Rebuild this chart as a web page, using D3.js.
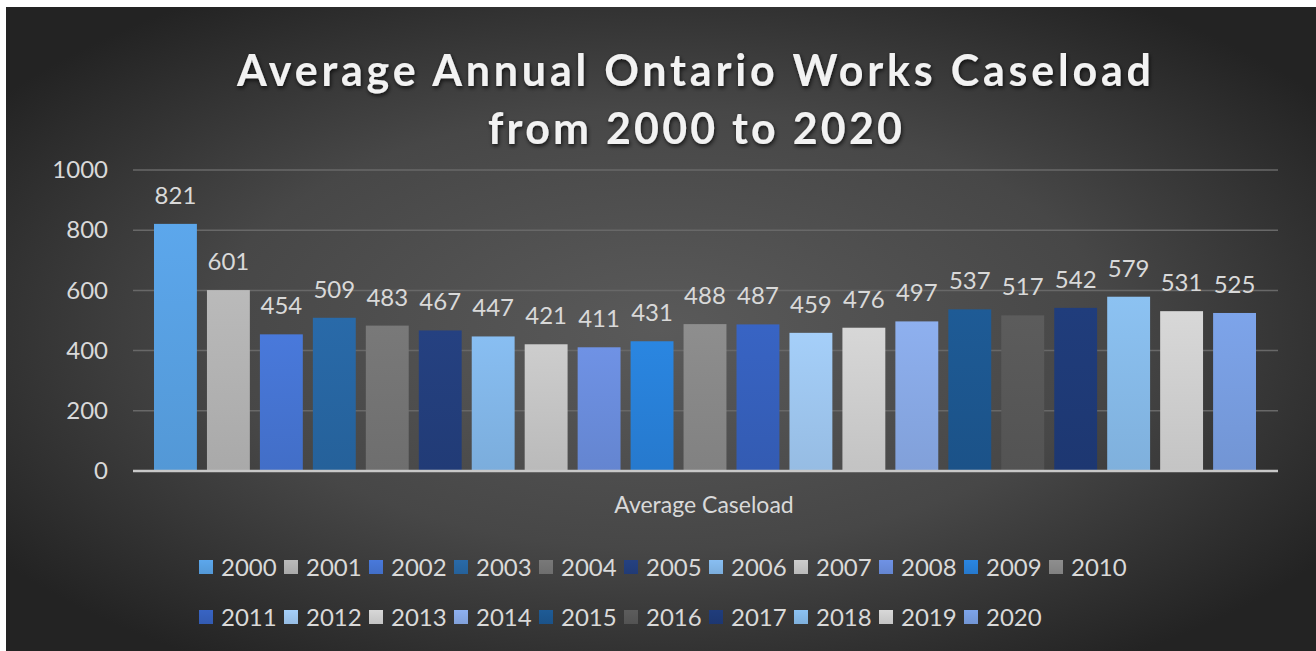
<!DOCTYPE html>
<html>
<head>
<meta charset="utf-8">
<script src="https://cdn.jsdelivr.net/npm/d3@7"></script>
<style>
  html, body { margin: 0; padding: 0; background: #ffffff; }
  svg { display: block; font-family: Lato, "Open Sans", sans-serif; }
</style>
</head>
<body>
<div id="chart"></div>
<script>
// chart data
const years = ["2000", "2001", "2002", "2003", "2004", "2005", "2006", "2007", "2008", "2009", "2010",
  "2011", "2012", "2013", "2014", "2015", "2016", "2017", "2018", "2019", "2020"];
const caseload = [821, 601, 454, 509, 483, 467, 447, 421, 411, 431, 488,
  487, 459, 476, 497, 537, 517, 542, 579, 531, 525];
const yTicks = [0, 200, 400, 600, 800, 1000];
const categoryLabel = "Average Caseload";
const titleLines = ["Average Annual Ontario Works Caseload", "from 2000 to 2020"];

// one fill per series, as in the spreadsheet palette
const palette = ["#58a0e2", "#b2b2b2", "#4674d2", "#2766a2", "#747474", "#233e7c", "#82b6e8",
  "#c4c4c4", "#6a8cdb", "#2880d8", "#888888", "#3660bc", "#9ec6ef", "#cecece", "#88a9e5",
  "#1d5790", "#585858", "#1f3a77", "#86bae8", "#cfcfcf", "#789de0"];

const W = 1316, H = 651;
const svg = d3.select("#chart").append("svg").attr("width", W).attr("height", H);
const defs = svg.append("defs");

const bg = defs.append("radialGradient").attr("id", "bg")
  .attr("cx", "0.5").attr("cy", "0.5").attr("r", "0.62")
  .attr("gradientUnits", "objectBoundingBox");
bg.append("stop").attr("offset", "0%").attr("stop-color", "#5a5a5a");
bg.append("stop").attr("offset", "55%").attr("stop-color", "#474747");
bg.append("stop").attr("offset", "100%").attr("stop-color", "#232323");

const shadow = defs.append("filter").attr("id", "shadow")
  .attr("x", "-5%").attr("y", "-20%").attr("width", "110%").attr("height", "150%");
shadow.append("feDropShadow").attr("dx", 1).attr("dy", 2).attr("stdDeviation", 2)
  .attr("flood-color", "#000").attr("flood-opacity", 0.75);

palette.forEach((c, i) => {
  const g = defs.append("linearGradient").attr("id", "bar" + i)
    .attr("x1", 0).attr("y1", 0).attr("x2", 0).attr("y2", 1);
  g.append("stop").attr("offset", "0%").attr("stop-color", d3.color(c).brighter(0.12));
  g.append("stop").attr("offset", "100%").attr("stop-color", d3.color(c).darker(0.15));
});

svg.append("rect").attr("x", 6).attr("y", 7).attr("width", W - 6).attr("height", H - 7)
  .attr("fill", "url(#bg)");

// title
const title = svg.append("g").attr("filter", "url(#shadow)");
title.append("text").attr("x", 694).attr("y", 86).attr("text-anchor", "middle")
  .attr("fill", "#f2f2f2").attr("font-size", 43).attr("font-weight", "bold")
  .attr("textLength", 914).attr("lengthAdjust", "spacing")
  .text(titleLines[0]);
title.append("text").attr("x", 695).attr("y", 144).attr("text-anchor", "middle")
  .attr("fill", "#f2f2f2").attr("font-size", 43).attr("font-weight", "bold")
  .attr("textLength", 414).attr("lengthAdjust", "spacing")
  .text(titleLines[1]);

// scales
const plotLeft = 133, plotRight = 1278;
const y = d3.scaleLinear().domain([0, 1000]).range([471, 170]);
const x = d3.scaleBand().domain(years).range([154, 1256]).paddingInner(0.19).paddingOuter(0);

// gridlines
svg.append("g").selectAll("line").data(yTicks.filter(t => t > 0)).join("line")
  .attr("x1", plotLeft).attr("x2", plotRight)
  .attr("y1", d => y(d)).attr("y2", d => y(d))
  .attr("stroke", "#686868").attr("stroke-width", 1.5);

// y axis labels
const yAxis = svg.append("g").attr("transform", `translate(${plotLeft},0)`)
  .call(d3.axisLeft(y).tickValues(yTicks).tickFormat(d3.format("d")).tickSize(0).tickPadding(25));
yAxis.select(".domain").remove();
yAxis.selectAll("text").attr("fill", "#d9d9d9").attr("font-size", 24)
  .attr("font-family", "Lato, sans-serif");

// bars
svg.append("g").selectAll("rect").data(years).join("rect")
  .attr("x", d => x(d))
  .attr("y", (d, i) => y(caseload[i]))
  .attr("width", x.bandwidth())
  .attr("height", (d, i) => y(0) - y(caseload[i]))
  .attr("fill", (d, i) => `url(#bar${i})`);

// value labels
svg.append("g").selectAll("text").data(years).join("text")
  .attr("x", d => x(d) + x.bandwidth() / 2)
  .attr("y", (d, i) => y(caseload[i]) - 20)
  .attr("text-anchor", "middle")
  .attr("fill", "#d9d9d9").attr("font-size", 24)
  .text((d, i) => caseload[i]);

// baseline axis
svg.append("line").attr("x1", plotLeft).attr("x2", plotRight)
  .attr("y1", y(0)).attr("y2", y(0))
  .attr("stroke", "#c8c8c8").attr("stroke-width", 2.5);

// category label
svg.append("text").attr("x", 704).attr("y", 513).attr("text-anchor", "middle")
  .attr("fill", "#d9d9d9").attr("font-size", 23)
  .text(categoryLabel);

// legend, two rows
const perRow = 11;
const legendCol = d3.scaleLinear().domain([0, 1]).range([199, 284]);
const legendRow = d3.scaleLinear().domain([0, 1]).range([567, 617]);
const items = svg.append("g").selectAll("g").data(years).join("g")
  .attr("transform", (d, i) =>
    `translate(${legendCol(i % perRow)},${legendRow(Math.floor(i / perRow))})`);
items.append("rect").attr("x", 0).attr("y", -7).attr("width", 14).attr("height", 14)
  .attr("fill", (d, i) => `url(#bar${i})`);
items.append("text").attr("x", 22).attr("y", 0).attr("dy", "0.36em")
  .attr("fill", "#d9d9d9").attr("font-size", 24)
  .text(d => d);
</script>
</body>
</html>
